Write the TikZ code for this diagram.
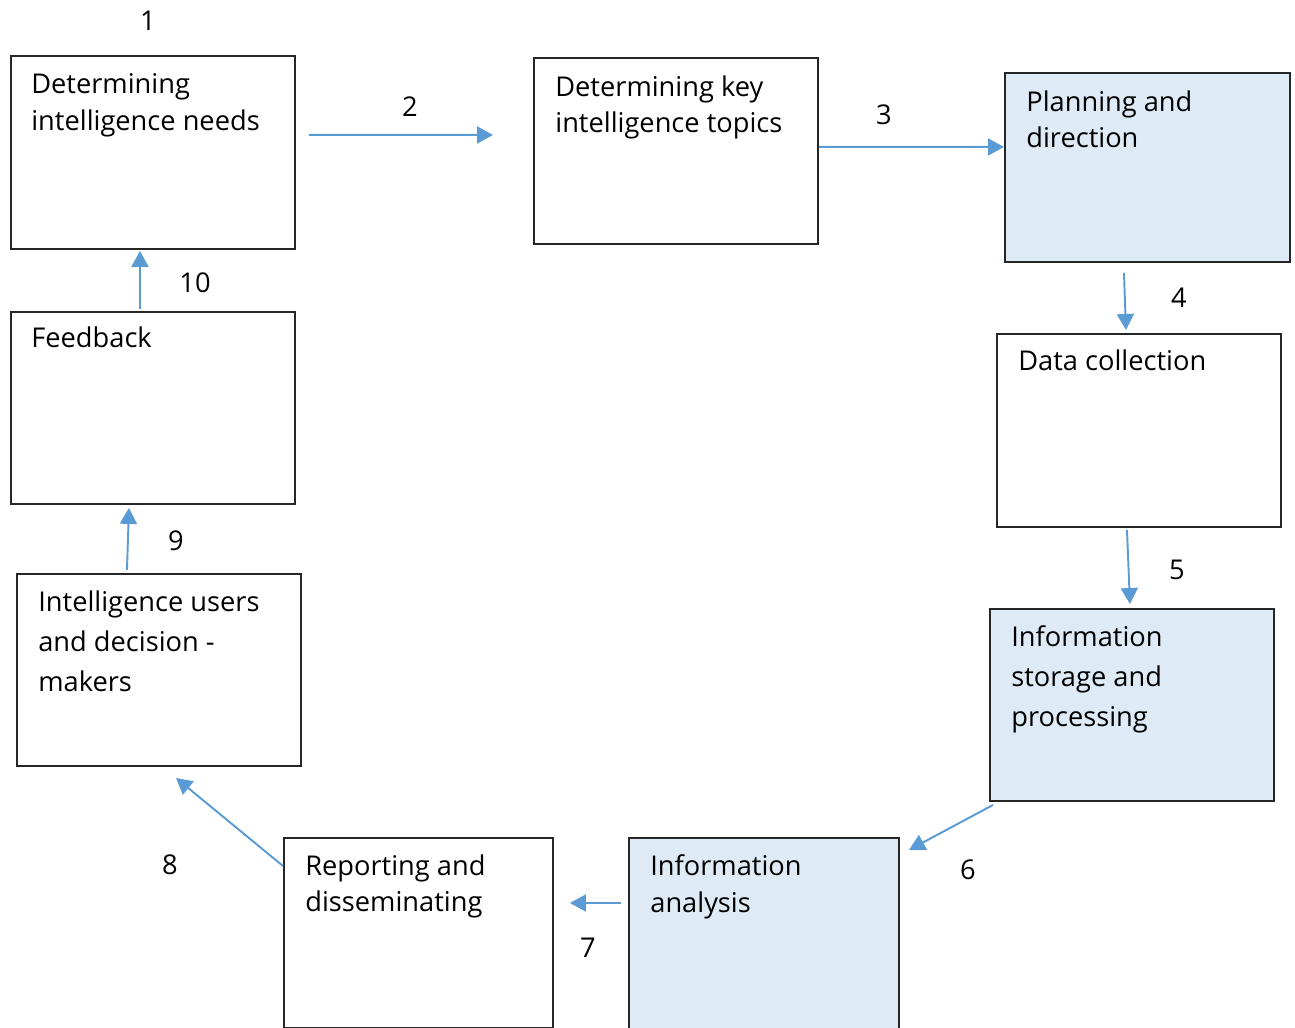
\documentclass[tikz,border=0pt]{standalone}
\usepackage{fontspec}
\setmainfont{Open Sans}
\usetikzlibrary{arrows.meta, positioning, calc}
\definecolor{cyclebl}{RGB}{91, 155, 213}
\definecolor{cyclefill}{RGB}{222, 235, 247}

\begin{document}
\begin{tikzpicture}[
    stage/.style={draw=black!85, line width=1.1pt, anchor=north west, minimum width=5.68cm, minimum height=3.86cm, inner sep=0pt},
    stagefill/.style={stage, fill=cyclefill},
    stagetext/.style={anchor=north west, inner sep=0pt, align=left, font=\fontsize{15.5pt}{21pt}\selectfont},
    widetext/.style={stagetext, font=\fontsize{15.5pt}{22.8pt}\selectfont},
    stepnum/.style={inner sep=0pt, font=\fontsize{15.5pt}{18pt}\selectfont},
    flow/.style={draw=cyclebl, line width=1.1pt, -{Triangle[length=3.2mm, width=3.4mm]}}
  ]
  \useasboundingbox (0,0) rectangle (25.9,-20.56);
  \clip (0,0) rectangle (25.9,-20.56);

  % boxes of the cycle
  \node[stage] (needs) at (0.2,-1.1) {};
  \node[stage, minimum height=3.72cm] (topics) at (10.66,-1.14) {};
  \node[stagefill, minimum width=5.7cm, minimum height=3.78cm] (plan) at (20.08,-1.44) {};
  \node[stage] (collect) at (19.92,-6.66) {};
  \node[stagefill, minimum height=3.84cm] (store) at (19.78,-12.16) {};
  \node[stagefill, minimum width=5.4cm, minimum height=4.4cm] (analysis) at (12.56,-16.74) {};
  \node[stage, minimum width=5.38cm, minimum height=3.8cm] (report) at (5.66,-16.74) {};
  \node[stage, minimum height=3.84cm] (users) at (0.32,-11.46) {};
  \node[stage, minimum height=3.84cm] (feedback) at (0.2,-6.22) {};

  % texts
  \node[stagetext] (needs-t) at ([shift={(0.42,-0.36)}]needs.north west) {Determining\\intelligence needs};
  \node[stagetext] (topics-t) at ([shift={(0.44,-0.36)}]topics.north west) {Determining key\\intelligence topics};
  \node[stagetext] (plan-t) at ([shift={(0.44,-0.36)}]plan.north west) {Planning and\\direction};
  \node[stagetext] (collect-t) at ([shift={(0.44,-0.32)}]collect.north west) {Data collection};
  \node[widetext] (store-t) at ([shift={(0.44,-0.34)}]store.north west) {Information\\storage and\\processing};
  \node[stagetext] (analysis-t) at ([shift={(0.44,-0.34)}]analysis.north west) {Information\\analysis};
  \node[stagetext] (report-t) at ([shift={(0.44,-0.34)}]report.north west) {Reporting and\\disseminating};
  \node[widetext] (users-t) at ([shift={(0.44,-0.34)}]users.north west) {Intelligence users\\and decision -\\makers};
  \node[stagetext] (feedback-t) at ([shift={(0.42,-0.3)}]feedback.north west) {Feedback};

  % step numbers
  \node[stepnum] (n1) at (2.96,-0.42) {1};
  \node[stepnum] (n2) at (8.2,-2.14) {2};
  \node[stepnum] (n3) at (17.68,-2.3) {3};
  \node[stepnum] (n4) at (23.58,-5.96) {4};
  \node[stepnum] (n5) at (23.54,-11.4) {5};
  \node[stepnum] (n6) at (19.36,-17.4) {6};
  \node[stepnum] (n7) at (11.76,-18.96) {7};
  \node[stepnum] (n8) at (3.4,-17.3) {8};
  \node[stepnum] (n9) at (3.52,-10.82) {9};
  \node[stepnum] (n10) at (3.9,-5.66) {10};

  % arrows
  \draw[flow, shorten <=2.6mm, shorten >=8mm] ([yshift=3.5mm]needs.east) -- ([yshift=3.2mm]topics.west);
  \draw[flow] ([yshift=0.8mm]topics.east) -- ([yshift=4.1mm]plan.west);
  \draw[flow] ([shift={(-0.47,-0.2)}]plan.south) -- ([shift={(-0.26,0.06)}]collect.north);
  \draw[flow] ([shift={(-0.24,-0.04)}]collect.south) -- ([shift={(-0.04,0.08)}]store.north);
  \draw[flow] ([shift={(0.08,-0.06)}]store.south west) -- ([shift={(0.18,-0.26)}]analysis.north east);
  \draw[flow] ([shift={(-0.14,-1.32)}]analysis.north west) -- ([shift={(0.32,-1.32)}]report.north east);
  \draw[flow] ([shift={(0,-0.58)}]report.north west) -- ([shift={(0.34,-0.22)}]users.south);
  \draw[flow] ([shift={(-0.64,0.06)}]users.north) -- ([shift={(-0.48,-0.06)}]feedback.south);
  \draw[flow] ([shift={(-0.26,0.04)}]feedback.north) -- ([shift={(-0.26,-0.02)}]needs.south);
\end{tikzpicture}
\end{document}
